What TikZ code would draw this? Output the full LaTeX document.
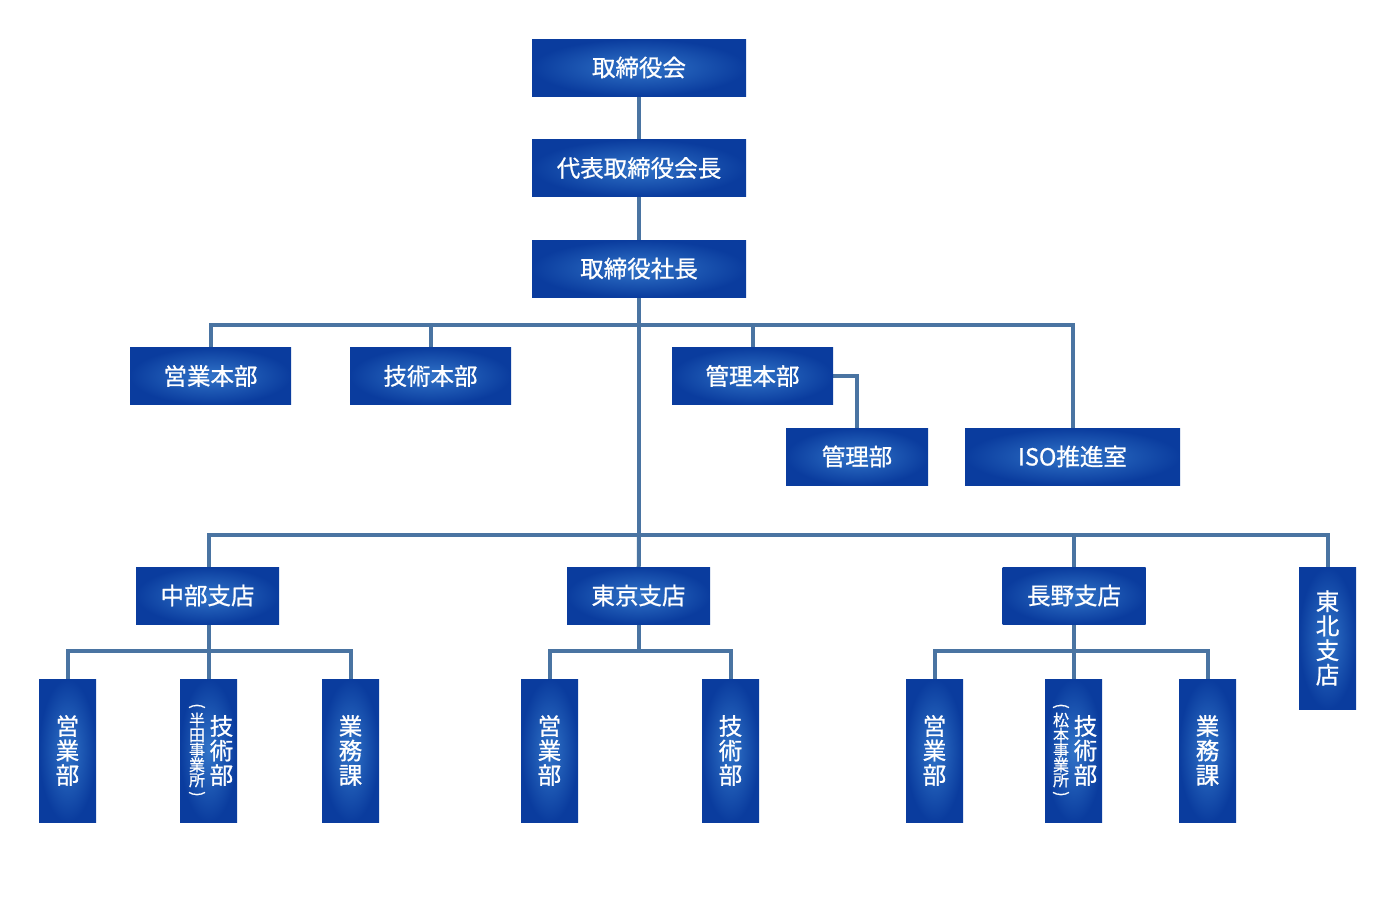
\documentclass[tikz,border=0pt]{standalone}
\usepackage{fontspec}
\newfontfamily\cjk[FakeBold=0.8]{Noto Sans CJK JP}
\usetikzlibrary{backgrounds}
\definecolor{boxin}{HTML}{3174C8}
\definecolor{boxout}{HTML}{0A3C9E}
\definecolor{linec}{HTML}{4A74A2}
\tikzset{
  orgbox/.style={rectangle, inner sep=0pt, text=white, shading=radial, inner color=boxin, outer color=boxout, align=center, font=\cjk\fontsize{23.5}{24.5}\selectfont},
  hbox/.style={orgbox, minimum height=57pt},
  vbox/.style={orgbox, minimum width=57pt, minimum height=143pt},
  conn/.style={draw=linec, line width=4pt},
  smallv/.style={text=white, inner sep=0pt, align=center, font=\cjk\fontsize{16}{15}\selectfont},
  paren/.style={text=white, inner sep=0pt, rotate=-90, font=\cjk\fontsize{16}{16}\selectfont},
  mainv/.style={text=white, inner sep=0pt, align=center, font=\cjk\fontsize{23.5}{24.5}\selectfont}
}
\begin{document}
\begin{tikzpicture}[x=1pt,y=-1pt]
\useasboundingbox (0,0) rectangle (1390,908);
% top hierarchy
\node[hbox, minimum width=214pt] (board) at (639,67.5) {取締役会};
\node[hbox, minimum width=214pt] (chair) at (639,168) {代表取締役会長};
\node[hbox, minimum width=214pt] (pres) at (639,268.5) {取締役社長};
% headquarters
\node[hbox, minimum width=161pt] (eh) at (210.5,376) {営業本部};
\node[hbox, minimum width=161pt] (gh) at (430.5,376) {技術本部};
\node[hbox, minimum width=161pt] (kh) at (752.5,376) {管理本部};
\node[hbox, minimum width=142pt] (kb) at (857,456.5) {管理部};
\node[hbox, minimum width=215pt] (iso) at (1072.5,456.5) {ISO推進室};
% branches
\node[hbox, minimum width=143pt] (chubu) at (207.5,595.5) {中部支店};
\node[hbox, minimum width=143pt] (tokyo) at (638.5,595.5) {東京支店};
\node[hbox, minimum width=143pt] (nagano) at (1074,595.5) {長野支店};
\node[vbox, minimum height=142pt] (tohoku) at (1327.5,638) {東\\北\\支\\店};
% bottom departments
\node[vbox] (c1) at (67.5,750.5) {営\\業\\部};
\node[vbox] (c2) at (208.5,750.5) {};
\node[mainv] (c2m) at (221.5,750.5) {技\\術\\部};
\node[smallv] (c2s) at (197,750) {半\\田\\事\\業\\所};
\node[paren] (c2p) at (197,706) {(};
\node[paren] (c2q) at (197,794) {)};
\node[vbox] (c3) at (350.5,750.5) {業\\務\\課};
\node[vbox] (t1) at (549.5,750.5) {営\\業\\部};
\node[vbox] (t2) at (730.5,750.5) {技\\術\\部};
\node[vbox] (n1) at (934.5,750.5) {営\\業\\部};
\node[vbox] (n2) at (1073.5,750.5) {};
\node[mainv] (n2m) at (1085.5,750.5) {技\\術\\部};
\node[smallv] (n2s) at (1061,750) {松\\本\\事\\業\\所};
\node[paren] (n2p) at (1061,706) {(};
\node[paren] (n2q) at (1061,794) {)};
\node[vbox] (n3) at (1207.5,750.5) {業\\務\\課};
% junctions
\coordinate (hq) at (639,325);
\coordinate (br) at (639,535);
\coordinate (cj) at (208.5,651);
\coordinate (tj) at (638.5,651);
\coordinate (nj) at (1073.5,651);
\begin{scope}[on background layer]
\draw[conn] (board) -- (chair);
\draw[conn] (chair) -- (pres);
\draw[conn] (pres.south) -- (br);
\draw[conn] (hq) -| (eh.north);
\draw[conn] (hq) -| (gh.north);
\draw[conn] (hq) -| (kh.north);
\draw[conn] (hq) -| (iso.north);
\draw[conn] (kh.east) -| (kb.north);
\draw[conn] (br) -| (cj);
\draw[conn] (br) -- (tokyo);
\draw[conn] (br) -| (nj);
\draw[conn] (br) -| (tohoku.north);
\draw[conn] (cj) -| (c1.north);
\draw[conn] (cj) -- (c2.north);
\draw[conn] (cj) -| (c3.north);
\draw[conn] (tokyo.south) -- (tj);
\draw[conn] (tj) -| (t1.north);
\draw[conn] (tj) -| (t2.north);
\draw[conn] (nj) -| (n1.north);
\draw[conn] (nj) -- (n2.north);
\draw[conn] (nj) -| (n3.north);
\end{scope}
\end{tikzpicture}
\end{document}
